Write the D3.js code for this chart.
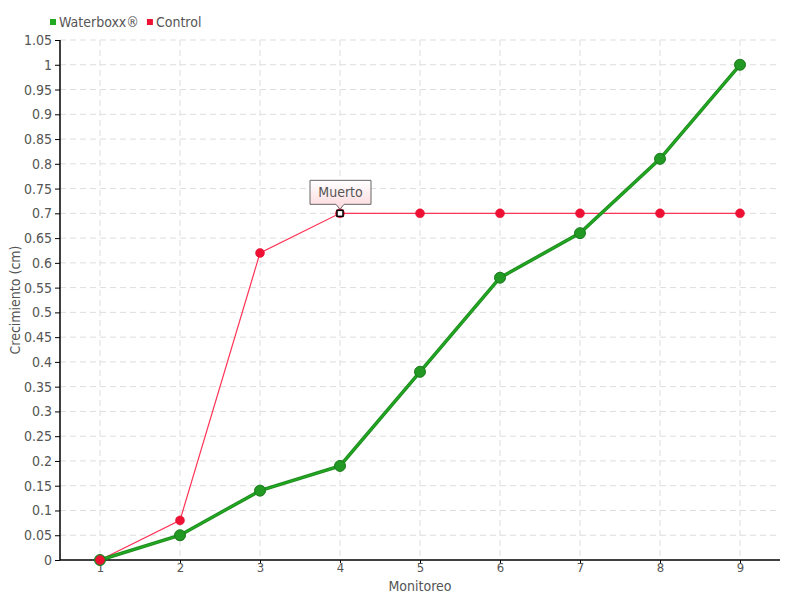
<!DOCTYPE html>
<html><head><meta charset="utf-8">
<script src="https://cdn.jsdelivr.net/npm/d3@7"></script>
<style>
body{margin:0;background:#fff;}
text{font-family:"DejaVu Sans Condensed","Liberation Sans Narrow","Roboto",sans-serif;fill:#555;}
</style></head>
<body><svg id="c" width="800" height="600"></svg>
<script>
const categories=[1,2,3,4,5,6,7,8,9];
const waterboxx=[0,0.05,0.14,0.19,0.38,0.57,0.66,0.81,1.0];
const control=[0,0.08,0.62,0.70,0.70,0.70,0.70,0.70,0.70];
const yTicks=[0,0.05,0.1,0.15,0.2,0.25,0.3,0.35,0.4,0.45,0.5,0.55,0.6,0.65,0.7,0.75,0.8,0.85,0.9,0.95,1,1.05];
const seriesNames=["Waterboxx®","Control"];
const annotation={index:3,label:"Muerto"};

const svg=d3.select("#c");
const x=d3.scaleLinear().domain([0.5,9.5]).range([60,780]);
const y=d3.scaleLinear().domain([0,1.05]).range([560,40]);
const fmt=v=>String(+v.toFixed(2));

// grid
const g=svg.append("g");
g.selectAll(".hg").data(yTicks.filter(d=>d>0)).enter().append("line")
 .attr("x1",60).attr("x2",780).attr("y1",d=>y(d)).attr("y2",d=>y(d))
 .attr("stroke","#ddd").attr("stroke-dasharray","6,4");
g.selectAll(".vg").data(categories).enter().append("line")
 .attr("x1",d=>x(d)).attr("x2",d=>x(d)).attr("y1",40).attr("y2",560)
 .attr("stroke","#ddd").attr("stroke-dasharray","6,4");

// axes
const ya=svg.append("g").attr("transform","translate(60,0)")
 .call(d3.axisLeft(y).tickValues(yTicks).tickFormat(fmt).tickSize(5).tickPadding(3));
const xa=svg.append("g").attr("transform","translate(0,560)")
 .call(d3.axisBottom(x).tickValues(categories).tickFormat(d3.format("d")).tickSize(3).tickPadding(0));
[ya,xa].forEach(a=>{a.select(".domain").attr("stroke","#000").attr("stroke-width",1.5);
 a.selectAll(".tick line").attr("stroke","#000");
 a.selectAll("text").style("font-size","14px").attr("fill","#555");});
xa.selectAll("text").style("font-size","13px");
ya.select(".domain").attr("d","M0,40V560");
xa.select(".domain").attr("d","M60,0H780");

// lines
const line=d3.line().x((d,i)=>x(categories[i])).y(d=>y(d));
svg.append("path").datum(control).attr("d",line).attr("fill","none")
 .attr("stroke","#ff3355").attr("stroke-width",1.2);
svg.append("path").datum(waterboxx).attr("d",line).attr("fill","none")
 .attr("stroke","#1e8c1e").attr("stroke-width",3.5);
svg.append("path").datum(waterboxx).attr("d",line).attr("fill","none")
 .attr("stroke","#22aa22").attr("stroke-width",1.5);

svg.selectAll(".gp").data(waterboxx).enter().append("circle")
 .attr("cx",(d,i)=>x(categories[i])).attr("cy",d=>y(d)).attr("r",5.5)
 .attr("fill","#229922").attr("stroke","#1a7a1a").attr("stroke-width",1);
svg.selectAll(".rp").data(control).enter().append("circle")
 .attr("cx",(d,i)=>x(categories[i])).attr("cy",d=>y(d)).attr("r",4.5)
 .attr("fill","#ee1133").attr("stroke","#dd1030").attr("stroke-width",0.5);

// annotation
const ax=x(categories[annotation.index]), ay=y(control[annotation.index]);
svg.append("rect").attr("x",ax-3).attr("y",ay-3).attr("width",6).attr("height",6)
 .attr("fill","#fff").attr("stroke","#000").attr("stroke-width",1.5);
const defs=svg.append("defs");
const gr=defs.append("linearGradient").attr("id","tg").attr("x1",0).attr("y1",0).attr("x2",0).attr("y2",1);
gr.append("stop").attr("offset","0").attr("stop-color","#fff");
gr.append("stop").attr("offset","1").attr("stop-color","#fdd8dc");
const bx=ax-30, bw=61, by=ay-33, bh=24;
svg.append("path").attr("d",`M${bx},${by}H${bx+bw}V${by+bh}H${ax+4}L${ax},${by+bh+5}L${ax-4},${by+bh}H${bx}Z`)
 .attr("fill","url(#tg)").attr("stroke","#666").attr("stroke-width",1);
svg.append("text").attr("x",bx+bw/2).attr("y",by+17).attr("text-anchor","middle")
 .style("font-size","14px").text(annotation.label);

// legend
const colors=["#22aa22","#ee1133"];
const lg=svg.append("g");
let lx=50;
seriesNames.forEach((n,i)=>{
 lg.append("rect").attr("x",lx).attr("y",19).attr("width",6).attr("height",6).attr("fill",colors[i]);
 const t=lg.append("text").attr("x",lx+9).attr("y",27).style("font-size","14px").text(n);
 lx+=t.node().getComputedTextLength()+17;
});

// axis titles
svg.append("text").attr("x",420).attr("y",591).attr("text-anchor","middle").style("font-size","14px").text("Monitoreo");
svg.append("text").attr("transform","translate(20,300) rotate(-90)").attr("text-anchor","middle").style("font-size","14px").text("Crecimiento (cm)");
</script></body></html>
